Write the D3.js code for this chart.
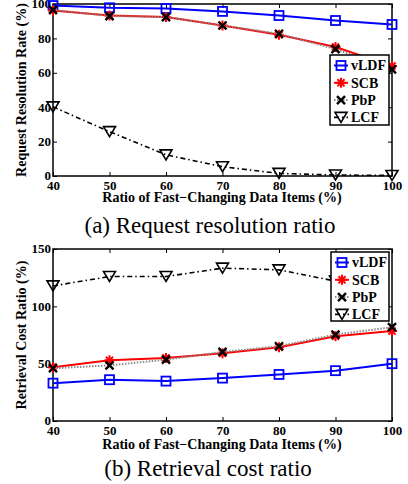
<!DOCTYPE html>
<html>
<head>
<meta charset="utf-8">
<script src="https://cdn.jsdelivr.net/npm/d3@7"></script>
<style>
  html, body { margin: 0; padding: 0; background: #fff; }
  svg { display: block; }
</style>
</head>
<body>
<svg id="fig" width="408" height="484"></svg>
<script>
// Ratio of fast-changing data items (%)
const ratios = [40, 50, 60, 70, 80, 90, 100];

// (a) Request resolution rate (%)
const rateVLDF = [99.1, 97.8, 97.4, 95.7, 93.3, 90.4, 88.1];
const rateSCB  = [96.2, 93.3, 92.4, 87.5, 82.1, 75.0, 63.9];
const ratePbP  = [96.6, 93.0, 92.4, 87.5, 82.7, 73.8, 62.0];
const rateLCF  = [40.2, 25.8, 12.3, 5.4, 1.5, 0.6, 0.3];

// (b) Retrieval cost ratio (%) — LCF has no measurement at 100
const costVLDF = [33.0, 36.0, 34.8, 37.4, 40.6, 43.9, 50.0];
const costSCB  = [46.8, 52.9, 55.0, 59.0, 64.3, 74.0, 78.4];
const costPbP  = [46.0, 48.5, 53.5, 60.2, 65.2, 75.4, 81.8];
const costLCF  = [117.8, 126.0, 126.0, 133.3, 131.8, 122.0, null];

const xTicks = [40, 50, 60, 70, 80, 90, 100];
const rateTicks = [0, 20, 40, 60, 80, 100];
const costTicks = [0, 50, 100, 150];

const seriesNames = ["vLDF", "SCB", "PbP", "LCF"];

const FONT = "'Liberation Serif', 'DejaVu Serif', serif";
const svg = d3.select("#fig");

// line / marker styling per method
const styles = {
  vLDF: { color: "#0000ff", width: 2, dash: null, marker: "square" },
  SCB:  { color: "#ff0000", width: 2, dash: null, marker: "asterisk" },
  PbP:  { color: "#8a8a8a", width: 2, dash: "1.5,1.5", marker: "cross", markerColor: "#000" },
  LCF:  { color: "#000000", width: 1.6, dash: "5,3,1.5,3", marker: "triangle" }
};

function drawMarker(g, type, cx, cy, color) {
  const m = g.append("g").attr("transform", `translate(${cx},${cy})`);
  if (type === "square") {
    m.append("rect").attr("x", -4.5).attr("y", -4.5).attr("width", 9).attr("height", 9)
      .attr("fill", "none").attr("stroke", color).attr("stroke-width", 1.8);
  } else if (type === "asterisk") {
    const r = 5;
    for (let k = 0; k < 4; k++) {
      const a = k * Math.PI / 4;
      m.append("line")
        .attr("x1", -r * Math.cos(a)).attr("y1", -r * Math.sin(a))
        .attr("x2", r * Math.cos(a)).attr("y2", r * Math.sin(a))
        .attr("stroke", color).attr("stroke-width", 2);
    }
  } else if (type === "cross") {
    const r = 4;
    m.append("path").attr("d", `M${-r},${-r}L${r},${r}M${-r},${r}L${r},${-r}`)
      .attr("stroke", color).attr("stroke-width", 2.4).attr("fill", "none");
  } else if (type === "triangle") {
    m.append("path").attr("d", "M-6,-5L6,-5L0,5Z")
      .attr("fill", "none").attr("stroke", color).attr("stroke-width", 1.6)
      .attr("stroke-linejoin", "miter");
  }
}

function drawPanel(cfg) {
  const x = d3.scaleLinear().domain([40, 100]).range([cfg.left, cfg.right]);
  const y = d3.scaleLinear().domain(cfg.yDomain).range([cfg.bottom, cfg.top]);
  const g = svg.append("g");

  // inward ticks on all four sides
  const tickLen = 4;
  const axB = d3.axisBottom(x).tickValues(xTicks).tickSizeInner(-tickLen).tickSizeOuter(0).tickPadding(5);
  const axT = d3.axisTop(x).tickValues(xTicks).tickSizeInner(-tickLen).tickSizeOuter(0).tickFormat("");
  const axL = d3.axisLeft(y).tickValues(cfg.yTicks).tickSizeInner(-tickLen).tickSizeOuter(0).tickPadding(2);
  const axR = d3.axisRight(y).tickValues(cfg.yTicks).tickSizeInner(-tickLen).tickSizeOuter(0).tickFormat("");

  const gb = g.append("g").attr("transform", `translate(0,${cfg.bottom})`).call(axB);
  const gt = g.append("g").attr("transform", `translate(0,${cfg.top})`).call(axT);
  const gl = g.append("g").attr("transform", `translate(${cfg.left},0)`).call(axL);
  const gr = g.append("g").attr("transform", `translate(${cfg.right},0)`).call(axR);
  [gb, gt, gl, gr].forEach(a => {
    a.selectAll(".domain").remove();
    a.selectAll(".tick line").attr("stroke", "#000").attr("stroke-width", 1);
    a.selectAll(".tick text").attr("fill", "#000")
      .style("font-family", FONT).style("font-weight", "bold").style("font-size", "13px");
  });
  gb.selectAll(".tick text").attr("dy", "0.71em");
  gl.selectAll(".tick text").attr("dy", "0.3em");

  // plot frame
  g.append("rect")
    .attr("x", cfg.left).attr("y", cfg.top)
    .attr("width", cfg.right - cfg.left).attr("height", cfg.bottom - cfg.top)
    .attr("fill", "none").attr("stroke", "#000").attr("stroke-width", 1.5);

  // series
  const line = d3.line()
    .defined(d => d != null)
    .x((d, i) => x(ratios[i])).y(d => y(d));
  seriesNames.forEach(name => {
    const st = styles[name];
    const vals = cfg.data[name];
    const p = g.append("path").datum(vals).attr("d", line)
      .attr("fill", "none").attr("stroke", st.color).attr("stroke-width", st.width)
      .attr("stroke-linejoin", "round");
    if (st.dash) p.attr("stroke-dasharray", st.dash);
    vals.forEach((v, i) => {
      if (v != null) drawMarker(g, st.marker, x(ratios[i]), y(v), st.markerColor || st.color);
    });
  });

  // legend
  const lg = g.append("g");
  lg.append("rect")
    .attr("x", cfg.legend.x).attr("y", cfg.legend.y)
    .attr("width", cfg.legend.w).attr("height", cfg.legend.h)
    .attr("fill", "#fff").attr("stroke", "#000").attr("stroke-width", 1.5);
  seriesNames.forEach((name, i) => {
    const st = styles[name];
    const cy = cfg.legend.y + 10.5 + i * 17.3;
    const lx = cfg.legend.x + 4;
    const seg = lg.append("line").attr("x1", lx).attr("x2", lx + 14).attr("y1", cy).attr("y2", cy)
      .attr("stroke", st.color).attr("stroke-width", st.width);
    if (st.dash) seg.attr("stroke-dasharray", st.dash);
    drawMarker(lg, st.marker, lx + 7, cy, st.markerColor || st.color);
    lg.append("text").attr("x", cfg.legend.x + 21).attr("y", cy).attr("dy", "0.35em")
      .style("font-family", FONT).style("font-weight", "bold").style("font-size", "14px")
      .attr("fill", "#000").text(name);
  });

  // axis titles
  g.append("text")
    .attr("x", 222).attr("y", cfg.xTitleY)
    .attr("text-anchor", "middle")
    .style("font-family", FONT).style("font-weight", "bold").style("font-size", "14px")
    .text("Ratio of Fast\u2212Changing Data Items (%)");
  g.append("text")
    .attr("transform", `translate(${cfg.yTitleX},${cfg.yTitleCY}) rotate(-90)`)
    .attr("text-anchor", "middle")
    .style("font-family", FONT).style("font-weight", "bold").style("font-size", "14px")
    .text(cfg.yTitle);

  // caption
  g.append("text")
    .attr("x", cfg.captionX).attr("y", cfg.captionY)
    .attr("text-anchor", "middle")
    .style("font-family", FONT).style("font-size", "23px")
    .text(cfg.caption);
}

drawPanel({
  left: 53, right: 392, top: 4, bottom: 176,
  yDomain: [0, 100], yTicks: rateTicks,
  data: { vLDF: rateVLDF, SCB: rateSCB, PbP: ratePbP, LCF: rateLCF },
  legend: { x: 330, y: 55, w: 59, h: 70 },
  yTitle: "Request Resolution Rate (%)", yTitleX: 26, yTitleCY: 90,
  xTitleY: 202,
  caption: "(a) Request resolution ratio", captionX: 210, captionY: 233
});

drawPanel({
  left: 53, right: 392, top: 249, bottom: 421,
  yDomain: [0, 150], yTicks: costTicks,
  data: { vLDF: costVLDF, SCB: costSCB, PbP: costPbP, LCF: costLCF },
  legend: { x: 331, y: 252, w: 58, h: 69 },
  yTitle: "Retrieval Cost Ratio (%)", yTitleX: 26, yTitleCY: 335,
  xTitleY: 449,
  caption: "(b) Retrieval cost ratio", captionX: 208, captionY: 476
});
</script>
</body>
</html>
